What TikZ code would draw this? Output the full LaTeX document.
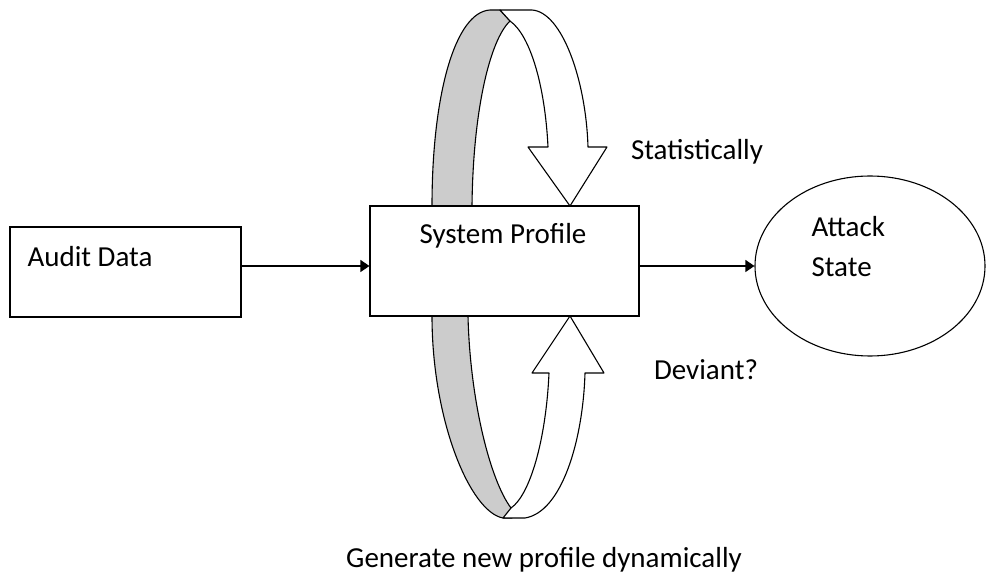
\documentclass[tikz,border=0pt]{standalone}
\usepackage{fontspec}
\setmainfont{Carlito}
\usetikzlibrary{arrows.meta,shapes.geometric}
\definecolor{bandgray}{RGB}{204,204,204}
\begin{document}
\begin{tikzpicture}[x=1pt,y=-1pt,
  line width=1.1pt,
  lbl/.style={font=\fontsize{29}{34}\selectfont, inner sep=0pt, text=black},
  box/.style={draw, fill=white, minimum width=#1, inner sep=0pt},
  arr/.style={-{Triangle[length=9pt,width=12pt]}},
  ribbon/.style={draw, line join=round}]
\useasboundingbox (0,0) rectangle (989,577);
% upper ribbon
\path[ribbon, fill=bandgray] (432,206) .. controls (432,95) and (455,12) .. (490,10)
  -- (500,10) -- (510,21) .. controls (490,40) and (473,110) .. (472,206) -- cycle;
\path[ribbon, fill=white] (500,10) -- (532,10) .. controls (562,12) and (586,80) .. (588,147)
  -- (607,147) -- (570,206) -- (528,147) -- (548,147)
  .. controls (545,85) and (530,35) .. (510,21) -- cycle;
% lower ribbon
\path[ribbon, fill=bandgray] (432,316) .. controls (432,420) and (470,512) .. (503,518)
  -- (512,518) -- (511,508) .. controls (490,480) and (470,400) .. (468,316) -- cycle;
\path[ribbon, fill=white] (503,518) -- (525,518) .. controls (562,512) and (583,440) .. (585,373)
  -- (604,373) -- (570,316) -- (532,373) -- (549,373)
  .. controls (546,440) and (530,495) .. (511,508) -- cycle;
% boxes
\node[box=231pt, minimum height=90pt] (audit) at (125.5,272) {};
\node[box=269pt, minimum height=110pt] (sys) at (504.5,261) {};
\node[draw, ellipse, fill=white, minimum width=230pt, minimum height=180pt, inner sep=0pt] (att) at (870,266) {};
% labels
\node[lbl, anchor=west] (auditlbl) at (27,257) {Audit Data};
\node[lbl] (syslbl) at (503,236) {System Profile};
\node[lbl, anchor=west] (attlbl1) at (811,227) {Attack};
\node[lbl, anchor=west] (attlbl2) at (811,267) {State};
\node[lbl] (stat) at (697,152) {Statistically};
\node[lbl] (dev) at (706,370) {Deviant?};
\node[lbl] (gen) at (544,560) {Generate new profile dynamically};
% connectors
\coordinate (mid) at (0,266);
\draw[arr] (audit.east |- mid) -- (sys.west |- mid);
\draw[arr] (sys.east |- mid) -- (att.west);
\end{tikzpicture}
\end{document}
